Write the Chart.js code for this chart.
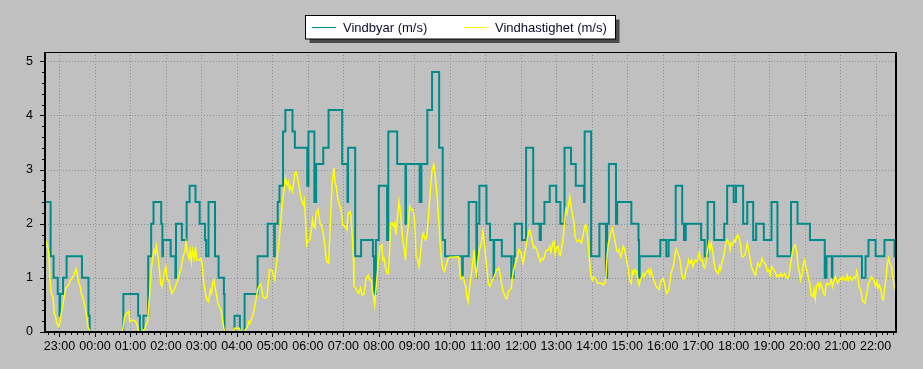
<!DOCTYPE html>
<html>
<head>
<meta charset="utf-8">
<script src="https://cdn.jsdelivr.net/npm/chart.js@4.4.1/dist/chart.umd.min.js"></script>
<style>
html,body{margin:0;padding:0;background:#c0c0c0;overflow:hidden;}
#wrap{width:923px;height:369px;position:relative;}
</style>
</head>
<body>
<div id="wrap"><canvas id="c" width="923" height="369"></canvas></div>
<script>
// ---- DATA (x = minutes after 23:00 on the first day) ----
const seriesLabels = ['Vindbyar (m/s)', 'Vindhastighet (m/s)'];
const xTickLabels = ['23:00','00:00','01:00','02:00','03:00','04:00','05:00','06:00','07:00','08:00','09:00','10:00',
  '11:00','12:00','13:00','14:00','15:00','16:00','17:00','18:00','19:00','20:00','21:00','22:00'];
const xTickMinutes = [0,60,120,180,240,300,360,420,480,540,600,660,720,780,840,900,960,1020,1080,1140,1200,1260,1320,1380];
const yTickValues = [0,1,2,3,4,5];

// Vindbyar (gusts): value holds from each time until the next
const gustTimes = [-25,-15,-10,-3,0,1,6,12,38,49,51,108,133,136,142,150,155,159,172,174,175,188,196,197,207,215,220,230,237,246,248,252,263,269,278,279,296,305,313,335,
  352,363,364,369,372,378,382,394,398,419,421,431,434,446,455,478,487,488,500,510,530,532,535,540,554,556,571,585,586,609,612,622,630,642,648,652,681,682,692,
  705,706,710,722,728,734,735,748,764,768,770,782,789,801,812,814,820,829,840,847,854,865,873,887,888,899,913,924,926,929,941,943,967,979,980,981,1016,1026,1030,1042,1053,
  1056,1059,1085,1091,1096,1107,1124,1129,1140,1144,1156,1163,1173,1178,1191,1204,1214,1237,1248,1269,1294,1297,1306,1307,1357,1363,1368,1380,1395,1412,1415];
const gustValues = [2.4,1.4,1.0,0.7,0.3,0.7,1.0,1.4,1.0,0.3,0,0.7,0.3,0,0.3,1.4,2.0,2.4,2.0,1.4,1.7,1.4,1.0,2.0,1.7,2.4,2.7,2.4,2.0,1.7,1.4,2.4,1.4,1.0,0.7,0,0.3,0,0.7,1.4,
  2.0,1.4,2.0,2.4,2.7,3.7,4.1,3.7,3.4,2.7,3.7,2.4,3.1,3.4,4.1,3.1,2.4,3.4,1.4,1.7,1.4,0.7,1.7,2.7,1.7,3.7,3.1,2.0,3.1,2.4,3.1,4.1,4.8,3.4,1.7,1.4,1.0,1.4,2.4,
  1.0,2.0,2.7,2.0,1.7,1.0,1.7,1.4,1.0,1.4,2.0,1.7,3.4,2.0,1.7,2.0,2.4,2.7,2.4,2.0,3.4,3.1,2.7,2.4,3.7,1.4,2.0,1.0,2.0,3.1,2.0,2.4,2.0,1.7,1.0,1.4,1.7,1.4,1.7,2.7,2.0,
  1.7,2.0,1.7,1.4,2.4,1.7,2.0,2.7,2.4,2.7,2.0,2.4,1.7,2.0,1.7,2.4,1.4,2.4,2.0,1.7,1.0,1.4,1.0,1.4,1.0,1.4,1.7,1.4,1.7,1.4,1.4];

// Vindhastighet (mean wind speed)
const speedTimes = [-25,-20,-18,-16,-14,-11,-9,-7,-5,-2,0,2,4,7,9,11,13,16,18,20,23,25,28,30,33,35,37,39,42,44,46,48,51,53,106,108,110,113,117,119,122,127,129,132,134,140,142,144,146,149,151,153,155,158,160,162,164,167,169,171,173,176,178,180,182,185,187,190,193,195,198,200,203,205,207,209,212,214,216,219,221,223,225,228,230,232,237,239,241,243,246,248,250,252,255,257,259,261,264,266,268,270,273,275,277,279,294,296,304,306,312,314,318,320,322,324,327,329,331,
  333,335,337,340,342,344,348,351,353,355,358,360,362,364,367,369,371,373,376,378,380,382,385,387,389,391,394,396,398,400,403,405,407,409,412,414,416,418,421,423,425,428,430,432,434,437,439,441,443,446,448,450,452,455,457,459,461,464,466,468,470,473,475,477,479,482,484,486,488,491,493,495,497,498,501,503,506,509,511,513,515,518,520,522,524,527,529,531,533,536,538,540,542,545,547,549,551,554,556,558,560,563,565,567,569,572,574,576,579,581,583,585,587,590,592,594,597,599,601,603,606,608,610,612,615,617,619,621,624,626,628,630,633,635,637,639,642,644,646,648,651,653,655,657,660,675,678,680,682,684,687,689,691,693,696,698,700,
  701,703,705,707,710,712,714,716,719,721,723,725,728,730,732,734,737,739,741,743,746,748,750,752,755,757,759,762,764,766,768,771,773,775,777,780,782,784,786,789,791,793,795,798,800,802,804,807,809,811,813,816,818,820,822,825,827,829,831,834,836,838,840,843,845,847,849,852,854,856,858,861,863,865,867,870,872,874,876,879,881,883,885,888,890,892,894,897,899,901,903,906,908,910,913,915,917,919,922,924,926,928,931,933,935,937,940,942,944,946,949,951,953,955,958,960,962,964,967,969,971,973,976,978,980,982,985,987,989,991,994,996,998,1000,1003,1005,1007,1009,1012,1014,1016,1018,1021,1023,1025,1027,1030,1032,1034,1036,1039,1041,1043,1045,1048,1050,1052,1054,
  1057,1060,1062,1064,1066,1069,1071,1073,1075,1078,1080,1082,1084,1087,1089,1091,1093,1096,1098,1100,1102,1105,1107,1109,1111,1114,1116,1118,1120,1123,1125,1127,1129,1132,1134,1136,1138,1141,1143,1145,1147,1150,1152,1154,1156,1159,1161,1163,1165,1168,1170,1172,1175,1177,1179,1181,1184,1186,1188,1190,1193,1195,1197,1199,1202,1204,1206,1208,1211,1213,1215,1217,1220,1222,1224,1226,1229,1231,1233,1235,1238,1240,1242,1244,1247,1249,1251,1253,1256,1258,1260,1262,1265,1267,1269,1271,1274,1276,1278,1280,1283,1285,1287,1289,1292,1294,1296,1298,1301,1303,1305,1307,1310,1312,1314,1316,1319,1321,1323,1325,1328,1330,1332,1334,1337,1339,1341,1343,1346,1348,1350,1352,1355,1357,1359,1362,1364,1366,1368,1371,1373,1375,1377,1380,1382,1384,1386,1389,1391,1393,1395,1398,1400,1402,1404,1407,1409,1411,1413];
const speedValues = [1.75,1.57,1.45,0.96,0.71,0.65,0.34,0.31,0.19,0.10,0.13,0.28,0.41,0.59,0.71,0.82,0.84,0.87,0.96,0.97,1.02,1.08,1.16,1.05,0.90,0.84,0.71,0.65,0.53,0.41,0.28,0.10,0.02,0,0,0.10,0.28,0.34,0.38,0.19,0.22,0.21,0.19,0.10,0,0,0.04,0.04,0.13,0.19,0.47,0.77,1.14,1.39,1.51,1.44,1.59,1.36,1.14,0.90,0.84,1.02,1.14,1.21,0.96,0.96,0.84,0.71,0.77,0.81,0.90,0.96,1.08,1.14,1.27,1.39,1.48,1.65,1.48,1.36,1.51,1.30,1.51,1.36,1.57,1.33,1.33,1.36,1.27,1.02,0.77,0.65,0.59,0.56,0.77,0.71,0.90,0.96,0.77,0.65,0.53,0.47,0.41,0.28,0.13,0,0,0.07,0.07,0,0,0.04,0.10,0.19,0.16,0.22,0.31,0.41,0.53,
  0.65,0.78,0.84,0.88,0.81,0.65,0.62,0.65,0.90,1.15,1.15,1.12,1.02,0.96,1.27,1.45,1.64,1.89,2.26,2.50,2.62,2.84,2.72,2.78,2.62,2.69,2.59,2.75,2.93,2.96,2.84,2.69,2.56,2.44,2.35,2.44,2.07,1.61,1.70,1.70,1.82,2.07,1.95,1.92,2.19,2.26,2.13,1.98,1.98,1.82,1.67,1.45,1.30,1.27,1.76,2.26,2.75,3.03,2.75,2.69,2.50,2.35,2.32,2.19,1.98,1.95,1.95,1.89,2.19,2.22,2.13,1.76,1.39,0.84,0.81,0.75,0.71,0.81,0.71,0.68,0.71,0.96,1.02,1.05,0.96,0.96,0.78,0.65,0.50,0.90,1.15,1.39,1.58,1.61,1.33,1.36,1.21,1.08,1.08,1.45,2.01,2.01,1.95,2.01,1.79,2.19,2.41,2.26,1.89,1.64,1.52,1.33,1.70,1.98,2.32,2.26,2.26,2.19,1.95,1.39,1.33,1.21,1.39,1.64,1.82,1.76,1.70,1.76,2.13,2.44,2.75,2.99,3.09,2.93,2.69,2.44,1.95,1.58,1.33,1.18,1.12,1.21,1.27,1.36,1.38,1.39,0.99,0.99,1.02,0.96,0.84,0.65,0.56,0.78,1.02,1.21,1.39,
  1.52,1.21,0.99,1.27,1.52,1.58,1.70,1.85,1.58,1.33,1.15,0.90,0.84,0.90,0.96,0.99,1.08,1.15,1.15,1.18,1.02,0.87,0.75,0.71,0.62,0.62,0.75,0.78,0.81,1.02,1.15,1.27,1.33,1.42,1.52,1.48,1.36,1.27,1.39,1.58,1.73,1.82,1.89,1.76,1.64,1.55,1.58,1.52,1.45,1.36,1.30,1.36,1.33,1.39,1.48,1.52,1.52,1.58,1.48,1.64,1.67,1.45,1.55,1.58,1.45,1.42,1.55,1.76,2.01,2.26,2.19,2.35,2.50,2.32,2.19,2.01,1.76,1.70,1.67,1.70,1.67,1.64,1.76,1.95,1.98,1.85,1.64,1.21,1.02,0.96,1.02,0.99,0.96,0.90,0.90,0.90,0.90,0.87,0.90,1.02,1.39,1.64,1.76,1.85,1.92,1.82,1.64,1.52,1.48,1.52,1.39,1.45,1.58,1.55,1.39,1.27,1.15,0.96,0.90,1.12,1.08,1.15,1.12,0.96,0.87,0.96,1.02,1.08,1.02,1.08,1.12,1.15,1.05,1.15,1.02,0.96,0.90,0.84,0.81,0.78,0.90,0.96,0.99,0.90,0.78,0.71,0.78,0.90,1.08,1.15,1.27,1.45,1.52,1.45,1.39,1.27,1.08,0.99,
  0.99,1.18,1.21,1.33,1.27,1.33,1.21,1.27,1.33,1.30,1.39,1.48,1.33,1.33,1.21,1.18,1.27,1.52,1.64,1.52,1.64,1.45,1.27,1.15,1.12,1.08,1.21,1.15,1.27,1.39,1.52,1.64,1.70,1.64,1.52,1.64,1.61,1.70,1.67,1.76,1.79,1.70,1.58,1.39,1.39,1.42,1.52,1.64,1.52,1.33,1.21,1.15,1.08,1.05,1.18,1.27,1.21,1.27,1.36,1.30,1.27,1.21,1.12,1.15,1.05,1.21,1.18,1.15,1.08,1.02,1.05,1.02,1.08,1.02,1.05,1.08,1.02,0.99,1.02,1.15,1.39,1.52,1.58,1.61,1.45,1.21,1.12,0.96,1.08,1.27,1.33,1.21,1.08,0.96,0.90,0.68,0.65,0.78,0.62,0.84,0.90,0.81,0.90,0.84,0.71,0.68,0.84,0.90,0.87,0.90,0.96,0.84,0.96,1.02,0.96,0.90,0.96,0.99,0.96,1.02,0.96,0.96,1.05,0.96,1.02,0.96,0.96,1.02,0.99,1.12,1.02,0.84,0.78,0.62,0.56,0.53,0.65,0.78,0.90,0.96,1.02,0.99,0.96,0.84,0.93,0.81,0.87,0.78,0.62,0.59,0.78,1.02,1.27,1.36,1.27,1.21,1.02,0.90,0.78];

// ---- STYLE ----
const X_MIN = -24.5, X_MAX = 1414.5, Y_MIN = 0, Y_MAX = 5.17;
const GUST_COLOR = '#008b8b', SPEED_COLOR = '#ffff00';
const TICK_FONT = {family: '"Liberation Sans", Arial, sans-serif', size: 12.5};

const toPoints = (ts, vs) => ts.map((t, i) => ({x: t, y: vs[i]}));

function crispLine(ctx, x1, y1, x2, y2) {
  ctx.beginPath(); ctx.moveTo(x1, y1); ctx.lineTo(x2, y2); ctx.stroke();
}

const gridPlugin = {
  id: 'gridPlugin',
  beforeDatasetsDraw(chart) {
    const {ctx, chartArea: a, scales: {x, y}} = chart;
    ctx.save();
    ctx.strokeStyle = '#8e8e8e';
    ctx.lineWidth = 1;
    ctx.setLineDash([1, 2]);
    xTickMinutes.forEach(v => {
      const px = Math.round(x.getPixelForValue(v)) + 0.5;
      crispLine(ctx, px, a.top, px, a.bottom);
    });
    yTickValues.forEach(v => {
      if (v === 0) return;
      const py = Math.round(y.getPixelForValue(v)) + 0.5;
      crispLine(ctx, a.left, py, a.right, py);
    });
    ctx.restore();
  },
  afterDatasetsDraw(chart) {
    const {ctx, chartArea: a, scales: {x, y}} = chart;
    ctx.save();
    ctx.strokeStyle = '#000';
    // minor ticks
    ctx.lineWidth = 1;
    for (let m = -20; m <= 1410; m += 10) {
      const px = Math.round(x.getPixelForValue(m)) + 0.5;
      const len = (m % 60 === 0) ? 5 : 3;
      crispLine(ctx, px, a.bottom, px, a.bottom + len);
    }
    for (let k = 0; k <= 25; k++) {
      const v = k / 5;
      const py = Math.round(y.getPixelForValue(v)) + 0.5;
      const len = (k % 5 === 0) ? 5 : 3;
      crispLine(ctx, a.left - len, py, a.left, py);
    }
    // frame
    ctx.lineWidth = 1;
    crispLine(ctx, a.left, Math.round(a.top) + 0.5, a.right, Math.round(a.top) + 0.5);
    ctx.lineWidth = 2;
    crispLine(ctx, a.right, a.top, a.right, a.bottom + 1);
    crispLine(ctx, a.left, a.top, a.left, a.bottom + 1);
    crispLine(ctx, a.left - 1, a.bottom, a.right + 1, a.bottom);
    ctx.restore();
  }
};

const legendPlugin = {
  id: 'boxLegend',
  afterDraw(chart) {
    const ctx = chart.ctx;
    const ds = chart.data.datasets;
    const bx = 305.5, by = 15.5, bw = 310, bh = 23.5;
    ctx.save();
    ctx.fillStyle = '#4a4a4a';
    ctx.fillRect(bx + 4, by + 4, bw, bh);
    ctx.fillStyle = '#ffffff';
    ctx.fillRect(bx, by, bw, bh);
    ctx.strokeStyle = '#000';
    ctx.lineWidth = 1;
    ctx.strokeRect(bx, by, bw, bh);
    const items = [{lx: 312, tx: 343}, {lx: 464, tx: 495}];
    ctx.font = '13px "Liberation Sans", Arial, sans-serif';
    ctx.textBaseline = 'middle';
    ctx.textAlign = 'left';
    items.forEach((it, i) => {
      ctx.strokeStyle = ds[i].borderColor;
      ctx.lineWidth = 1;
      crispLine(ctx, it.lx, 27.5, it.lx + 24, 27.5);
      ctx.fillStyle = '#0b0b30';
      ctx.fillText(ds[i].label, it.tx, 28);
    });
    ctx.restore();
  }
};

new Chart(document.getElementById('c'), {
  type: 'line',
  data: {
    datasets: [
      {label: seriesLabels[0], data: toPoints(gustTimes, gustValues), borderColor: GUST_COLOR,
       borderWidth: 2, stepped: 'before', pointRadius: 0, fill: false, order: 1},
      {label: seriesLabels[1], data: toPoints(speedTimes, speedValues), borderColor: SPEED_COLOR,
       borderWidth: 1.5, pointRadius: 0, tension: 0, fill: false, order: 0}
    ]
  },
  options: {
    responsive: false,
    animation: false,
    devicePixelRatio: 1,
    layout: {padding: {left: 0, right: 27, top: 52, bottom: 0}},
    plugins: {legend: {display: false}, tooltip: {enabled: false}, title: {display: false}},
    scales: {
      x: {
        type: 'linear', min: X_MIN, max: X_MAX,
        afterBuildTicks(s) { s.ticks = xTickMinutes.map(v => ({value: v})); },
        afterFit(s) { s.height = 37; },
        grid: {display: false, drawTicks: false},
        border: {display: false},
        ticks: {
          autoSkip: false, maxRotation: 0, minRotation: 0, padding: 7,
          color: '#000', font: TICK_FONT,
          callback: (v, i) => xTickLabels[i]
        }
      },
      y: {
        type: 'linear', min: Y_MIN, max: Y_MAX,
        afterBuildTicks(s) { s.ticks = yTickValues.map(v => ({value: v})); },
        afterFit(s) { s.width = 45; },
        grid: {display: false, drawTicks: false},
        border: {display: false},
        ticks: {padding: 12, color: '#000', font: TICK_FONT, callback: v => String(v)}
      }
    }
  },
  plugins: [gridPlugin, legendPlugin]
});
</script>
</body>
</html>
